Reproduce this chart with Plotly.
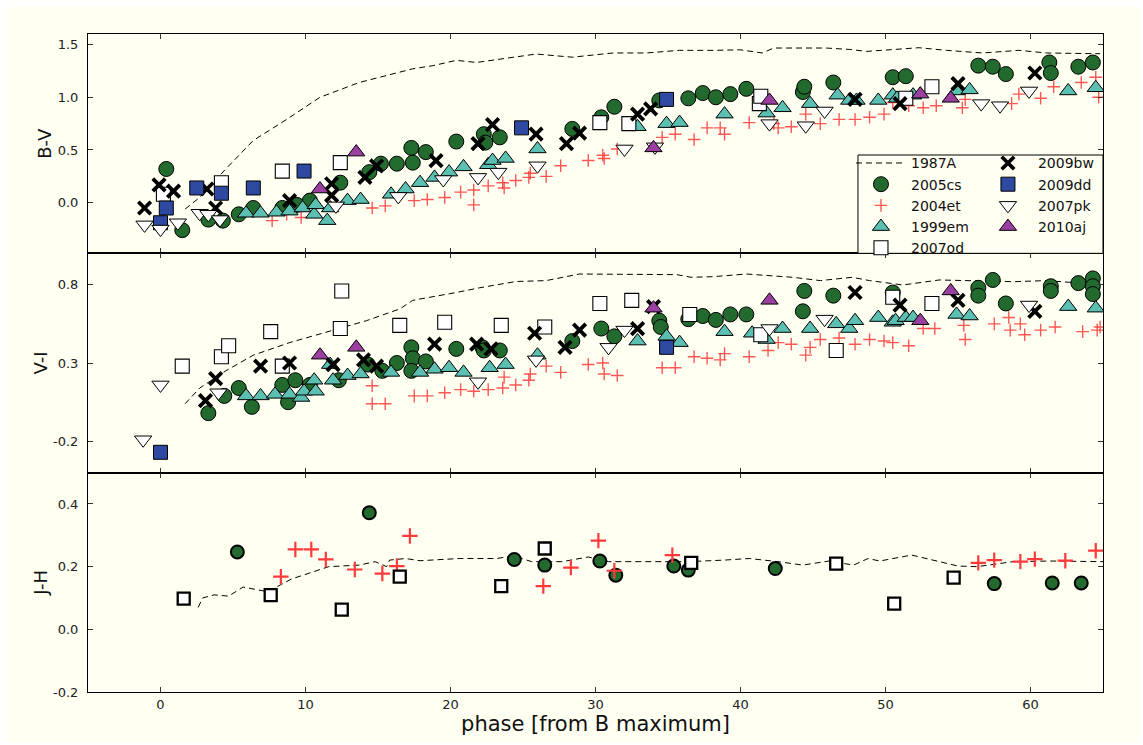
import plotly.graph_objects as go
from plotly.subplots import make_subplots

# ---------------------------------------------------------------
# Colour evolution of type II-P supernovae (phase from B maximum)
# ---------------------------------------------------------------

# ---- B-V ----
bv_1987A_x = [1.7, 2.7, 4.5, 6.4, 8.7, 11.0, 13.7, 15.6, 17.4, 18.8, 20.4, 21.8, 23.8, 25.9, 28.4,
              31.2, 33.5, 35.8, 38.2, 40.0, 41.5, 42.3, 45.9, 47.5, 48.7, 52.3, 54.2, 56.7, 59.2, 61.1, 64.8]
bv_1987A_y = [-0.06, 0.05, 0.32, 0.59, 0.79, 1.00, 1.14, 1.21, 1.27, 1.30, 1.35, 1.33, 1.37, 1.41, 1.38,
              1.42, 1.42, 1.445, 1.445, 1.45, 1.42, 1.467, 1.467, 1.454, 1.435, 1.47, 1.445, 1.42, 1.445, 1.42, 1.413]

bv_2005cs_x = [0.4, 1.5, 3.3, 4.3, 5.4, 6.4, 8.4, 9.4, 10.3, 12.4, 14.4, 15.2, 16.3, 17.3, 17.4, 18.3,
               20.4, 22.3, 22.4, 23.4, 28.4, 30.4, 31.3, 34.4, 36.4, 37.4, 38.3, 39.3, 40.4, 44.3, 44.4,
               46.4, 50.5, 51.4, 56.4, 57.4, 58.3, 61.3, 61.4, 63.3, 64.3]
bv_2005cs_y = [0.32, -0.26, -0.16, -0.17, -0.11, -0.05, -0.05, -0.02, 0.02, 0.19, 0.29, 0.37, 0.37, 0.52,
               0.38, 0.48, 0.58, 0.65, 0.57, 0.62, 0.70, 0.81, 0.91, 0.97, 0.99, 1.04, 1.00, 1.03, 1.08,
               1.05, 1.10, 1.14, 1.19, 1.20, 1.30, 1.29, 1.22, 1.33, 1.23, 1.29, 1.33]

bv_2004et_x = [7.7, 8.7, 9.7, 14.6, 15.5, 17.5, 18.4, 19.6, 20.7, 21.6, 21.6, 22.6, 23.6, 23.7, 24.5,
               25.4, 25.5, 26.6, 27.6, 29.5, 30.5, 30.6, 31.5, 34.6, 35.5, 36.8, 37.7, 38.6, 38.9, 40.6,
               42.3, 42.6, 43.5, 44.5, 45.5, 46.8, 47.9, 48.9, 49.9, 50.5, 51.6, 52.6, 53.5, 55.3, 55.5,
               58.7, 59.2, 60.7, 61.6, 63.5, 64.5, 64.7]
bv_2004et_y = [-0.17, -0.11, -0.14, -0.05, -0.03, 0.02, 0.03, 0.05, 0.10, 0.12, -0.02, 0.16, 0.19, 0.14,
               0.21, 0.24, 0.28, 0.25, 0.35, 0.40, 0.45, 0.42, 0.51, 0.62, 0.65, 0.60, 0.71, 0.71, 0.65,
               0.76, 0.75, 0.71, 0.72, 0.84, 0.75, 0.79, 0.79, 0.81, 0.84, 0.95, 0.92, 0.90, 0.92, 0.90,
               0.98, 0.94, 1.03, 0.99, 1.10, 1.14, 1.19, 1.00]

bv_1999em_x = [5.9, 6.9, 8.0, 8.9, 9.8, 10.6, 10.7, 11.5, 11.7, 12.9, 13.8, 15.9, 16.9, 17.9, 18.9, 19.9,
               20.9, 22.6, 22.9, 23.8, 26.0, 32.9, 34.9, 35.8, 38.9, 41.8, 42.9, 44.8, 46.7, 47.5, 48.0,
               49.5, 50.5, 50.8, 51.9, 54.9, 55.8, 62.6, 64.5]
bv_1999em_y = [-0.10, -0.10, -0.09, -0.08, -0.05, -0.11, -0.02, -0.17, -0.05, 0.02, 0.03, 0.08, 0.13,
               0.19, 0.24, 0.29, 0.34, 0.36, 0.40, 0.42, 0.51, 0.72, 0.75, 0.76, 0.84, 0.85, 0.90, 0.94,
               1.02, 0.97, 0.97, 0.97, 1.02, 0.99, 1.02, 1.06, 1.07, 1.06, 1.09]

bv_2007od_x = [0.2, 4.2, 8.4, 12.4, 30.3, 32.3, 41.3, 41.4, 51.4, 53.2]
bv_2007od_y = [0.08, 0.19, 0.30, 0.38, 0.76, 0.75, 0.94, 1.01, 0.99, 1.10]

bv_2009bw_x = [-1.1, -0.1, 0.9, 3.2, 3.8, 8.9, 11.8, 11.8, 14.1, 14.9, 19.0, 21.9, 22.9, 25.9, 28.0,
               28.9, 32.9, 33.8, 47.9, 51.0, 55.0, 60.3]
bv_2009bw_y = [-0.05, 0.17, 0.11, 0.13, -0.05, 0.02, 0.18, 0.07, 0.24, 0.35, 0.40, 0.56, 0.74, 0.65,
               0.56, 0.66, 0.84, 0.89, 0.98, 0.94, 1.13, 1.23]

bv_2009dd_x = [0.0, 0.4, 2.5, 4.2, 6.4, 9.9, 24.9, 34.9]
bv_2009dd_y = [-0.19, -0.05, 0.14, 0.09, 0.14, 0.30, 0.71, 0.98]

bv_2007pk_x = [-1.1, 0.0, 1.2, 2.7, 3.3, 4.1, 12.1, 16.4, 19.5, 21.9, 23.3, 26.0, 32.0, 34.1, 42.0,
               44.5, 45.8, 56.6, 57.9, 59.9]
bv_2007pk_y = [-0.21, -0.25, -0.19, -0.10, -0.11, -0.16, -0.03, 0.06, 0.22, 0.24, 0.29, 0.35, 0.51,
               0.53, 0.75, 0.73, 0.87, 0.94, 0.92, 1.06]

bv_2010aj_x = [11.0, 13.5, 34.0, 42.0, 52.4, 54.5]
bv_2010aj_y = [0.13, 0.48, 0.52, 0.97, 1.03, 0.99]

# ---- V-I ----
vi_1987A_x = [1.7, 2.7, 4.5, 6.4, 8.9, 11.9, 14.2, 16.5, 17.4, 20.4, 22.0, 24.5, 26.6, 28.9, 31.2, 33.5,
              35.6, 36.6, 38.1, 40.4, 42.4, 43.6, 45.5, 47.7, 48.9, 51.2, 53.7, 56.5, 58.8, 61.1, 62.7, 64.8]
vi_1987A_y = [0.04, 0.14, 0.25, 0.35, 0.43, 0.51, 0.57, 0.645, 0.70, 0.75, 0.78, 0.82, 0.826, 0.868,
              0.868, 0.864, 0.864, 0.847, 0.851, 0.868, 0.857, 0.847, 0.826, 0.847, 0.826, 0.798, 0.83,
              0.826, 0.819, 0.826, 0.815, 0.811]

vi_2005cs_x = [3.3, 4.4, 5.4, 6.3, 8.4, 8.8, 9.3, 10.3, 12.3, 14.3, 15.3, 16.3, 17.3, 17.4, 17.3, 18.3,
               20.4, 22.2, 22.3, 23.4, 28.4, 30.4, 31.3, 34.4, 34.5, 36.4, 37.4, 38.3, 39.3, 40.4, 44.3,
               44.4, 46.4, 50.5, 56.4, 56.4, 57.4, 58.3, 61.4, 61.4, 63.3, 64.3, 64.3, 64.3]
vi_2005cs_y = [-0.02, 0.09, 0.14, 0.02, 0.16, 0.05, 0.19, 0.16, 0.19, 0.29, 0.25, 0.30, 0.40, 0.33, 0.25,
               0.31, 0.39, 0.40, 0.38, 0.38, 0.44, 0.52, 0.47, 0.57, 0.53, 0.58, 0.60, 0.575, 0.61, 0.61,
               0.63, 0.76, 0.73, 0.75, 0.78, 0.73, 0.83, 0.68, 0.79, 0.76, 0.81, 0.84, 0.79, 0.74]

vi_2004et_x = [14.6, 14.6, 15.5, 17.5, 18.4, 19.6, 20.7, 21.6, 22.6, 23.6, 23.7, 24.5, 25.4, 25.5, 26.6,
               27.6, 29.5, 30.5, 30.6, 31.5, 34.6, 35.5, 36.8, 37.7, 38.6, 38.9, 40.6, 41.9, 42.6, 43.5,
               44.5, 44.8, 45.5, 46.8, 47.9, 48.9, 49.9, 50.5, 51.6, 52.6, 53.4, 55.4, 55.5, 57.5, 58.5,
               58.6, 59.3, 59.6, 60.7, 61.7, 63.6, 64.6, 64.8]
vi_2004et_y = [0.155, 0.04, 0.04, 0.09, 0.09, 0.11, 0.13, 0.12, 0.13, 0.14, 0.21, 0.16, 0.19, 0.23, 0.28,
               0.24, 0.29, 0.30, 0.23, 0.22, 0.27, 0.27, 0.34, 0.33, 0.32, 0.36, 0.34, 0.38, 0.43, 0.42,
               0.35, 0.40, 0.45, 0.46, 0.42, 0.45, 0.44, 0.43, 0.41, 0.52, 0.52, 0.54, 0.45, 0.55, 0.59,
               0.51, 0.55, 0.48, 0.51, 0.53, 0.50, 0.51, 0.53]

vi_1999em_x = [5.9, 6.9, 7.9, 8.9, 9.7, 9.9, 10.6, 10.7, 11.7, 11.9, 12.9, 13.8, 15.9, 17.9, 18.9, 19.9,
               20.9, 22.7, 23.8, 26.0, 32.9, 34.9, 35.8, 38.9, 40.8, 41.8, 42.9, 44.8, 46.6, 47.5, 47.9,
               49.5, 50.5, 50.7, 51.4, 51.9, 54.9, 55.8, 62.6, 64.5]
vi_1999em_y = [0.09, 0.09, 0.10, 0.10, 0.08, 0.12, 0.19, 0.12, 0.29, 0.19, 0.22, 0.23, 0.24, 0.24, 0.26,
               0.27, 0.24, 0.27, 0.29, 0.35, 0.44, 0.47, 0.43, 0.50, 0.49, 0.45, 0.52, 0.52, 0.55, 0.52,
               0.57, 0.59, 0.56, 0.57, 0.59, 0.59, 0.61, 0.60, 0.66, 0.65]

vi_2007od_x = [1.5, 4.2, 4.7, 7.6, 8.4, 12.4, 12.5, 16.5, 19.6, 23.5, 26.5, 30.3, 32.5, 36.5, 41.4,
               46.6, 50.5, 53.2]
vi_2007od_y = [0.28, 0.34, 0.41, 0.50, 0.28, 0.52, 0.76, 0.54, 0.56, 0.54, 0.53, 0.68, 0.70, 0.61, 0.48,
               0.38, 0.72, 0.68]

vi_2009bw_x = [3.1, 3.8, 6.9, 8.9, 11.9, 14.0, 14.9, 18.9, 21.8, 22.8, 25.8, 27.9, 28.9, 32.9, 34.0,
               47.9, 51.0, 55.0, 60.3]
vi_2009bw_y = [0.06, 0.20, 0.28, 0.30, 0.29, 0.32, 0.28, 0.42, 0.42, 0.39, 0.49, 0.40, 0.51, 0.52, 0.66,
               0.75, 0.67, 0.70, 0.63]

vi_2009dd_x = [0.0, 34.9]
vi_2009dd_y = [-0.27, 0.40]

vi_2007pk_x = [-1.2, 0.0, 4.0, 21.9, 25.9, 30.9, 32.0, 42.0, 45.8, 59.9]
vi_2007pk_y = [-0.19, 0.16, 0.11, 0.18, 0.32, 0.40, 0.51, 0.52, 0.58, 0.67]

vi_2010aj_x = [11.0, 13.5, 34.0, 42.0, 52.4, 54.5]
vi_2010aj_y = [0.35, 0.40, 0.65, 0.70, 0.57, 0.76]

# ---- J-H ----
jh_1987A_x = [2.6, 2.9, 3.7, 4.7, 5.7, 7.4, 9.0, 11.6, 13.7, 14.8, 15.6, 15.8, 16.9, 17.9, 20.6, 23.2,
              24.3, 25.6, 27.7, 29.5, 30.9, 33.9, 36.4, 38.9, 40.6, 42.6, 44.3, 46.1, 47.8, 48.8, 49.6,
              51.8, 53.8, 55.0, 56.3, 58.8, 61.3, 65.0]
jh_1987A_y = [0.07, 0.10, 0.11, 0.106, 0.135, 0.12, 0.16, 0.20, 0.205, 0.216, 0.20, 0.221, 0.226, 0.219,
              0.226, 0.226, 0.235, 0.216, 0.216, 0.231, 0.216, 0.216, 0.216, 0.221, 0.226, 0.216, 0.205,
              0.218, 0.205, 0.226, 0.218, 0.237, 0.216, 0.202, 0.20, 0.216, 0.218, 0.216]

jh_2005cs_x = [5.3, 14.4, 24.4, 26.5, 30.3, 31.4, 35.4, 36.4, 42.4, 57.5, 61.5, 63.5]
jh_2005cs_y = [0.247, 0.372, 0.223, 0.205, 0.218, 0.173, 0.202, 0.189, 0.194, 0.146, 0.148, 0.148]

jh_2004et_x = [8.3, 9.3, 10.4, 11.4, 13.4, 15.3, 16.3, 17.2, 26.4, 28.3, 30.2, 31.3, 35.3, 56.4, 57.5,
               59.3, 60.3, 62.4, 64.5]
jh_2004et_y = [0.168, 0.255, 0.255, 0.223, 0.191, 0.178, 0.202, 0.298, 0.138, 0.197, 0.283, 0.187,
               0.237, 0.212, 0.221, 0.216, 0.224, 0.219, 0.251]

jh_2007od_x = [1.6, 7.6, 12.5, 16.5, 23.5, 26.5, 36.6, 46.6, 50.6, 54.7]
jh_2007od_y = [0.098, 0.109, 0.063, 0.168, 0.138, 0.258, 0.212, 0.21, 0.082, 0.165]

# axis ticks
x_ticks = [0, 10, 20, 30, 40, 50, 60]
bv_ticks = [0.0, 0.5, 1.0, 1.5]
bv_tick_labels = ["0.0", "0.5", "1.0", "1.5"]
vi_ticks = [-0.2, 0.3, 0.8]
vi_tick_labels = ["-0.2", "0.3", "0.8"]
jh_ticks = [-0.2, 0.0, 0.2, 0.4]
jh_tick_labels = ["-0.2", "0.0", "0.2", "0.4"]

# ---------------------------------------------------------------
FONT = "DejaVu Sans"
IVORY = "#FFFFF2"
GREEN = "#236A2E"
CYAN = "#5BBFB2"
BLUE = "#2F48A0"
PURPLE = "#9B3FA0"
RED = "rgba(255,45,45,0.8)"
RED_JH = "#FF3A3A"


def mk(symbol, size, fill, edge="black", width=1.0):
    return dict(symbol=symbol, size=size, color=fill, line=dict(color=edge, width=width))


# marker styles for the optical (B-V, V-I) panels
style_opt = {
    "2005cs": mk("circle", 15, GREEN),
    "2004et": mk("cross-thin", 9, RED, RED, 1.4),
    "1999em": mk("triangle-up", 15, CYAN),
    "2007od": mk("square", 14, "white", "black", 1.1),
    "2009bw": mk("x-thin", 12.5, "black", "black", 3.8),
    "2009dd": mk("square", 14, BLUE),
    "2007pk": mk("triangle-down", 15, "white"),
    "2010aj": mk("triangle-up", 15, PURPLE),
}
# near-IR panel uses smaller symbols with heavier outlines
style_ir = {
    "2005cs": mk("circle", 13, GREEN, "black", 2.0),
    "2004et": mk("cross-thin", 11, RED_JH, RED_JH, 2.2),
    "2007od": mk("square", 12, "white", "black", 2.3),
}

bv_sets = {
    "2005cs": (bv_2005cs_x, bv_2005cs_y), "2004et": (bv_2004et_x, bv_2004et_y),
    "1999em": (bv_1999em_x, bv_1999em_y), "2007od": (bv_2007od_x, bv_2007od_y),
    "2009bw": (bv_2009bw_x, bv_2009bw_y), "2009dd": (bv_2009dd_x, bv_2009dd_y),
    "2007pk": (bv_2007pk_x, bv_2007pk_y), "2010aj": (bv_2010aj_x, bv_2010aj_y),
}
vi_sets = {
    "2005cs": (vi_2005cs_x, vi_2005cs_y), "2004et": (vi_2004et_x, vi_2004et_y),
    "1999em": (vi_1999em_x, vi_1999em_y), "2007od": (vi_2007od_x, vi_2007od_y),
    "2009bw": (vi_2009bw_x, vi_2009bw_y), "2009dd": (vi_2009dd_x, vi_2009dd_y),
    "2007pk": (vi_2007pk_x, vi_2007pk_y), "2010aj": (vi_2010aj_x, vi_2010aj_y),
}
jh_sets = {
    "2005cs": (jh_2005cs_x, jh_2005cs_y), "2004et": (jh_2004et_x, jh_2004et_y),
    "2007od": (jh_2007od_x, jh_2007od_y),
}
legend_of = {"2005cs": "legend", "2004et": "legend", "1999em": "legend", "2007od": "legend",
             "2009bw": "legend2", "2009dd": "legend2", "2007pk": "legend2", "2010aj": "legend2"}

fig = make_subplots(rows=3, cols=1, shared_xaxes=True, vertical_spacing=0)

dash_line = dict(color="black", width=1, dash="6px,4px")
for row, (lx, ly) in enumerate([(bv_1987A_x, bv_1987A_y), (vi_1987A_x, vi_1987A_y),
                                (jh_1987A_x, jh_1987A_y)], start=1):
    fig.add_trace(go.Scatter(x=lx, y=ly, mode="lines", line=dash_line, name="1987A",
                             legendgroup="1987A", legend="legend", showlegend=(row == 1)),
                  row=row, col=1)

for row, sets, styles in [(1, bv_sets, style_opt), (2, vi_sets, style_opt), (3, jh_sets, style_ir)]:
    for name, (xs, ys) in sets.items():
        fig.add_trace(go.Scatter(x=xs, y=ys, mode="markers", marker=styles[name], name=name,
                                 legendgroup=name, legend=legend_of[name],
                                 showlegend=(row == 1)),
                      row=row, col=1)

axis_common = dict(showline=True, linecolor="black", linewidth=1, mirror="ticks", ticks="inside",
                   ticklen=5, tickwidth=1, tickcolor="#333", showgrid=False, zeroline=False,
                   tickfont=dict(family=FONT, size=13, color="#222"))

for row in (1, 2, 3):
    fig.update_xaxes(range=[-5, 65], tickvals=x_ticks, **axis_common, row=row, col=1)
fig.update_xaxes(ticklabelstandoff=0,
                 title=dict(text="phase [from B maximum]", standoff=0,
                            font=dict(family=FONT, size=21, color="#111")), row=3, col=1)

title_font = dict(family=FONT, size=18, color="#111")
fig.update_yaxes(range=[-0.48, 1.6], tickvals=bv_ticks, ticktext=bv_tick_labels, ticklabelstandoff=6,
                 title=dict(text="B-V", standoff=1, font=title_font),
                 **axis_common, row=1, col=1)
fig.update_yaxes(range=[-0.4, 1.0], tickvals=vi_ticks, ticktext=vi_tick_labels, ticklabelstandoff=6,
                 title=dict(text="V-I", standoff=0, font=title_font),
                 **axis_common, row=2, col=1)
fig.update_yaxes(range=[-0.2, 0.5], tickvals=jh_ticks, ticktext=jh_tick_labels, ticklabelstandoff=6,
                 title=dict(text="J-H", standoff=0, font=title_font),
                 **axis_common, row=3, col=1)

legend_common = dict(xanchor="left", yanchor="top", bgcolor="rgba(0,0,0,0)", borderwidth=0,
                     font=dict(family=FONT, size=14, color="#111"), traceorder="normal",
                     itemsizing="trace", itemwidth=50, itemclick=False, itemdoubleclick=False)

fig.update_layout(
    width=1143, height=745,
    margin=dict(l=88, r=40, t=34, b=53),
    paper_bgcolor="white", plot_bgcolor=IVORY,
    font=dict(family=FONT, color="#111"),
    legend=dict(x=0.7517, y=0.8277, **legend_common),
    legend2=dict(x=0.8768, y=0.8277, **legend_common),
    shapes=[
        # figure face
        dict(type="rect", xref="paper", yref="paper", x0=-0.0798, x1=1.0365, y0=-0.0775, y1=1.041,
             fillcolor=IVORY, line=dict(width=0), layer="below"),
        # legend frame
        dict(type="rect", xref="paper", yref="paper", x0=0.7586, x1=1.0, y0=2 / 3, y1=0.8161,
             fillcolor=IVORY, line=dict(color="black", width=1), layer="above"),
    ],
)

fig.write_html("out.html")
